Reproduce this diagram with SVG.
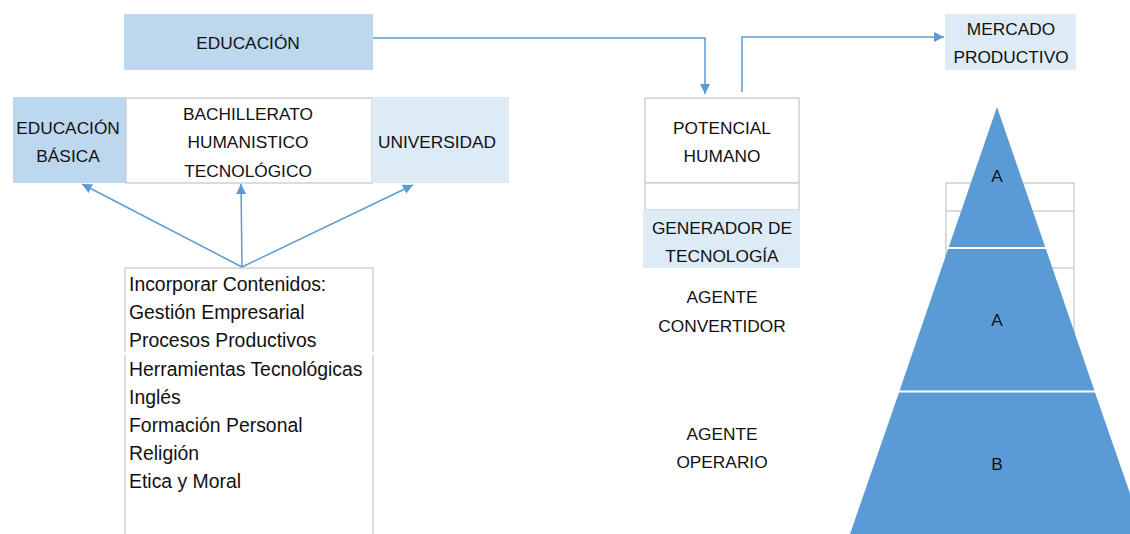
<svg xmlns="http://www.w3.org/2000/svg" width="1130" height="534" viewBox="0 0 1130 534">
  <style>
    text { font-family: "Liberation Sans", Arial, sans-serif; fill: #111; }
    .lbl { font-size: 17.3px; text-anchor: middle; }
    .lst { font-size: 19.4px; }
    .dark { fill: #BDD7EE; }
    .light { fill: #DDEBF7; }
    .cell { fill: #FFFFFF; stroke: #D0D0D0; stroke-width: 1.5; }
    .gl { fill: none; stroke: #D0D0D0; stroke-width: 1.5; }
    .conn { fill: none; stroke: #5B9BD5; stroke-width: 1.5; }
    .pyr { fill: #5B9BD5; }
  </style>
  <defs>
    <marker id="arr" viewBox="0 0 10 10" refX="10" refY="5" markerWidth="10" markerHeight="10" markerUnits="userSpaceOnUse" orient="auto">
      <path d="M0,0 L10,5 L0,10 Z" fill="#5B9BD5"/>
    </marker>
  </defs>
  <rect width="1130" height="534" fill="#FFFFFF"/>

  <g id="educacion">
    <rect class="dark" x="124" y="14" width="249" height="56"/>
    <text class="lbl" x="248" y="49">EDUCACIÓN</text>
  </g>

  <g id="educacion-basica">
    <rect class="dark" x="13" y="97" width="113" height="86"/>
    <text class="lbl" x="68" y="134">EDUCACIÓN</text>
    <text class="lbl" x="68" y="162">BÁSICA</text>
  </g>

  <g id="bachillerato">
    <rect class="cell" x="126" y="98" width="246" height="85"/>
    <text class="lbl" x="248" y="120">BACHILLERATO</text>
    <text class="lbl" x="248" y="148">HUMANISTICO</text>
    <text class="lbl" x="248" y="177">TECNOLÓGICO</text>
  </g>

  <g id="universidad">
    <rect class="light" x="372" y="97" width="137" height="86"/>
    <text class="lbl" x="437" y="148">UNIVERSIDAD</text>
  </g>

  <g id="contenidos">
    <path class="gl" d="M125,534 V355 M125,352 V268 H373 V352 M373,355 V534"/>
    <text class="lst" x="129" y="291">Incorporar Contenidos:</text>
    <text class="lst" x="129" y="319">Gestión Empresarial</text>
    <text class="lst" x="129" y="347">Procesos Productivos</text>
    <text class="lst" x="129" y="375.5">Herramientas Tecnológicas</text>
    <text class="lst" x="129" y="403.5">Inglés</text>
    <text class="lst" x="129" y="432">Formación Personal</text>
    <text class="lst" x="129" y="460">Religión</text>
    <text class="lst" x="129" y="488">Etica y Moral</text>
  </g>

  <g id="potencial-humano">
    <rect class="cell" x="645" y="98" width="154" height="85"/>
    <rect class="cell" x="645" y="183" width="154" height="27"/>
    <text class="lbl" x="722" y="134">POTENCIAL</text>
    <text class="lbl" x="722" y="162">HUMANO</text>
  </g>

  <g id="generador">
    <rect class="light" x="643" y="210" width="157" height="58"/>
    <text class="lbl" x="722" y="234">GENERADOR DE</text>
    <text class="lbl" x="722" y="262">TECNOLOGÍA</text>
  </g>

  <g id="agente-convertidor">
    <text class="lbl" x="722" y="303">AGENTE</text>
    <text class="lbl" x="722" y="332">CONVERTIDOR</text>
  </g>

  <g id="agente-operario">
    <text class="lbl" x="722" y="440">AGENTE</text>
    <text class="lbl" x="722" y="468">OPERARIO</text>
  </g>

  <g id="mercado">
    <rect class="light" x="945" y="14" width="131" height="56"/>
    <text class="lbl" x="1011" y="35">MERCADO</text>
    <text class="lbl" x="1011" y="63">PRODUCTIVO</text>
  </g>

  <g id="grid-behind">
    <path class="gl" d="M946,268 V183 H1074 V350 M946,211 H1074 M946,268 H1074"/>
  </g>

  <g id="piramide">
    <polygon class="pyr" points="997,107 1045.2,247 948.8,247"/>
    <polygon class="pyr" points="948.1,249 1045.9,249 1094.4,390.5 899.6,390.5"/>
    <polygon class="pyr" points="899,392.5 1095,392.5 1144,534 850,534"/>
    <text class="lbl" x="997" y="182">A</text>
    <text class="lbl" x="997" y="326">A</text>
    <text class="lbl" x="997" y="470">B</text>
  </g>

  <g id="connectors">
    <path class="conn" d="M373,38 H705 V94" marker-end="url(#arr)"/>
    <path class="conn" d="M742,92 V37 H944" marker-end="url(#arr)"/>
    <path class="conn" d="M242,267 L82,184" marker-end="url(#arr)"/>
    <path class="conn" d="M242,267 L241,184" marker-end="url(#arr)"/>
    <path class="conn" d="M242,267 L413,185" marker-end="url(#arr)"/>
  </g>
</svg>
